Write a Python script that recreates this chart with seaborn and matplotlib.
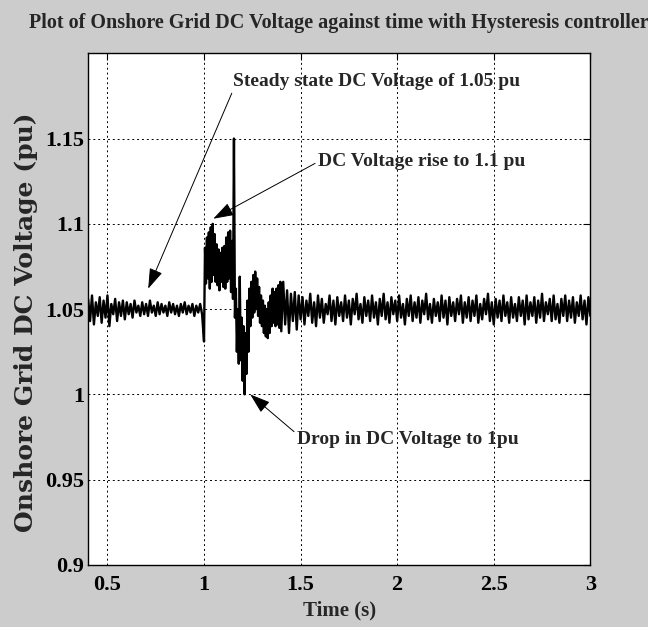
import numpy as np
import pandas as pd
import matplotlib
matplotlib.use("Agg")
import matplotlib.pyplot as plt
import seaborn as sns

# ---- data (pu) ----
v_pre = [1.056,1.043,1.058,1.041,1.054,1.046,1.057,1.042,1.055,1.045,
         1.058,1.040,1.053,1.047,1.056,1.043,1.054,1.046,1.055,1.044,
         1.054,1.047,1.053,1.045,1.055,1.048,1.052,1.046,1.054,1.047,
         1.053,1.046,1.055,1.048,1.052,1.046,1.054,1.047,1.053,1.048,
         1.052,1.046,1.054,1.048,1.053,1.047,1.052,1.046,1.053,1.048,
         1.054,1.047,1.052,1.048,1.053,1.046,1.052,1.048,1.053,1.047]
v_tr = [1.031,1.086,1.065,1.092,1.068,1.095,1.062,1.098,1.066,1.100,
        1.070,1.094,1.066,1.088,1.064,1.085,1.061,1.083,1.066,1.086,
        1.063,1.087,1.062,1.092,1.066,1.095,1.068,1.096,1.060,1.090,
        1.056,1.150,1.045,1.062,1.025,1.050,1.018,1.069,1.020,1.045,
        1.008,1.040,1.000,1.036,1.012,1.055,1.025,1.062,1.040,1.066,
        1.045,1.070,1.048,1.072,1.050,1.068,1.046,1.063,1.042,1.058,
        1.040,1.055,1.036,1.052,1.034,1.050,1.033,1.054,1.036,1.058,
        1.040,1.062,1.042,1.060,1.040,1.062,1.041,1.064,1.039,1.066]
v_post = [1.037,1.066,1.041,1.061,1.036,1.059,1.043,1.060,1.038,1.058,
          1.044,1.057,1.041,1.055,1.046,1.059,1.042,1.054,1.040,1.058,
          1.045,1.056,1.042,1.053,1.047,1.058,1.043,1.055,1.041,1.057,
          1.046,1.054,1.043,1.058,1.045,1.055,1.041,1.056,1.047,1.059,
          1.044,1.053,1.042,1.057,1.046,1.055,1.043,1.058,1.045,1.054,
          1.041,1.056,1.046,1.059,1.044,1.054,1.042,1.057,1.047,1.055,
          1.043,1.058,1.045,1.053,1.041,1.056,1.046,1.058,1.043,1.054,
          1.045,1.057,1.042,1.055,1.047,1.059,1.044,1.053,1.042,1.056,
          1.046,1.054,1.043,1.058,1.045,1.055,1.041,1.057,1.046,1.054,
          1.043,1.056,1.047,1.058,1.042,1.054,1.045,1.057,1.043,1.055,
          1.046,1.058,1.042,1.053,1.044,1.056,1.047,1.059,1.043,1.054,
          1.041,1.056,1.045,1.055,1.043,1.058,1.046,1.054,1.042,1.057,
          1.045,1.053,1.043,1.057,1.046,1.055,1.041,1.058,1.044,1.054,
          1.046,1.057,1.042,1.055,1.045,1.059,1.043,1.054,1.047,1.056,
          1.043,1.058,1.044,1.053,1.042,1.056,1.046,1.058,1.043,1.055,
          1.045,1.057,1.042,1.054,1.046,1.058,1.044,1.055,1.041,1.057,
          1.046]
# sampling grids (s)
t_pre = np.linspace(0.40, 0.99, len(v_pre))
t_tr = np.linspace(1.000, 1.395, len(v_tr))
t_post = np.linspace(1.40, 3.00, len(v_post))

x_ticks = [0.5, 1, 1.5, 2, 2.5, 3]
x_ticklabels = ["0.5", "1", "1.5", "2", "2.5", "3"]
y_ticks = [0.9, 0.95, 1.0, 1.05, 1.1, 1.15]
y_ticklabels = ["0.9", "0.95", "1", "1.05", "1.1", "1.15"]

title = "Plot of Onshore Grid DC Voltage against time with Hysteresis controller"
xlabel = "Time (s)"
ylabel = "Onshore Grid DC Voltage (pu)"
notes = [
    ("Steady state DC Voltage of 1.05 pu", (0.711, 1.062), (1.151, 1.1835), (0, 0.0)),
    ("DC Voltage rise to 1.1 pu", (1.048, 1.103), (1.592, 1.1365), (0, 0.5)),
    ("Drop in DC Voltage to 1pu", (1.239, 1.0), (1.483, 0.9735), (0, 0.8)),
]

df = pd.DataFrame({
    "t": np.concatenate([t_pre, t_tr, t_post]),
    "v": np.concatenate([v_pre, v_tr, v_post]),
})

sns.set_theme(style="white")
plt.rcParams["font.family"] = ["Liberation Serif", "DejaVu Serif"]
plt.rcParams["font.weight"] = "bold"

fig = plt.figure(figsize=(6.48, 6.27), dpi=100, facecolor="#cccccc")
ax = fig.add_axes([0.136, 0.099, 0.775, 0.816])
ax.set_facecolor("white")

sns.lineplot(data=df, x="t", y="v", ax=ax, color="black", lw=1.7,
             estimator=None, sort=False)

ax.set_xlim(0.4, 3.0)
ax.set_ylim(0.9, 1.2)
ax.set_xticks(x_ticks)
ax.set_xticklabels(x_ticklabels)
ax.set_yticks(y_ticks)
ax.set_yticklabels(y_ticklabels)
ax.tick_params(direction="in", length=5, width=0.8, top=True, right=True,
               labelsize=16, colors="black")
ax.tick_params(axis="x", pad=7)
ax.tick_params(axis="y", pad=3)
for lab in ax.get_xticklabels() + ax.get_yticklabels():
    lab.set_fontweight("bold")
ax.grid(True, color="black", linestyle=(0, (2, 3)), linewidth=0.7)
for s in ax.spines.values():
    s.set_color("black")
    s.set_linewidth(1.0)

ax.set_xlabel(xlabel, fontsize=15, fontweight="bold", labelpad=4)
ax.set_ylabel(ylabel, fontsize=18, fontweight="bold",
              family=["DejaVu Serif"])
ax.yaxis.set_label_coords(-0.100, 0.475)
ax.set_title(title, fontsize=14.5, fontweight="bold", pad=18)

for txt, xy, xyt, rp in notes:
    ax.annotate(txt, xy=xy, xytext=xyt, ha="left", va="center",
                fontsize=14, fontweight="bold",
                arrowprops=dict(arrowstyle="-|>,head_length=0.9,head_width=0.3",
                                color="black", lw=0.7, relpos=rp,
                                shrinkA=0, shrinkB=0))

fig.savefig("out.png", dpi=100, facecolor=fig.get_facecolor())
